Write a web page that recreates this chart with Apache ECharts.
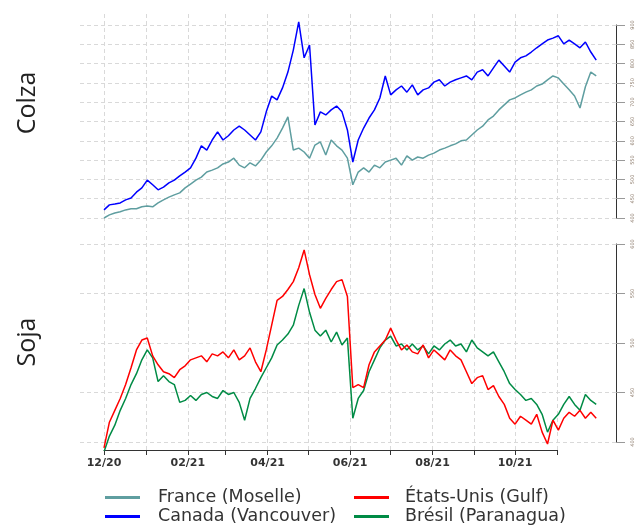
<!DOCTYPE html>
<html>
<head>
<meta charset="utf-8">
<script src="https://cdn.jsdelivr.net/npm/echarts@6/dist/echarts.min.js"></script>
<style>
  html, body { margin: 0; padding: 0; background: #fff; }
  #chart { width: 641px; height: 527px; }
</style>
</head>
<body>
<div id="chart"></div>
<script>
// one reading every 4 days, starting 2020-12-01
const startDate = '2020-12-01';
const stepDays = 4;

const colzaFrance = [400, 408, 413, 416, 421, 424, 424, 429, 431, 429, 439, 447, 454, 460, 465, 478, 488, 498, 506, 519,
  524, 530, 540, 545, 555, 537, 530, 543, 535, 550, 571, 587, 607, 633, 662, 576, 581, 571, 555, 589,
  597, 563, 602, 587, 576, 555, 486, 519, 530, 519, 537, 530, 545, 550, 555, 537, 561, 550, 558, 555,
  563, 568, 576, 581, 587, 592, 600, 602, 615, 628, 638, 654, 664, 680, 693, 706, 711, 719, 726, 732,
  742, 747, 758, 768, 763, 747, 732, 716, 685, 740, 778, 768];
const colzaCanada = [421, 434, 436, 439, 447, 452, 467, 478, 498, 486, 473, 480, 491, 498, 509, 519, 530, 555, 587, 576,
  602, 623, 602, 613, 628, 638, 628, 615, 602, 623, 675, 716, 706, 737, 778, 835, 908, 815, 848, 641,
  675, 667, 680, 690, 675, 628, 545, 602, 633, 659, 680, 711, 768, 719, 732, 742, 726, 745, 719, 732,
  737, 752, 758, 742, 752, 758, 763, 768, 758, 778, 784, 768, 789, 809, 794, 778, 804, 815, 820, 830,
  841, 851, 861, 866, 872, 851, 861, 851, 841, 856, 830, 809];
const sojaUSA = [394, 420, 432, 444, 458, 475, 493, 503, 505, 487, 478, 471, 469, 465, 473, 477, 483, 485, 487, 481,
  489, 487, 491, 485, 493, 483, 487, 495, 481, 471, 493, 518, 543, 547, 554, 562, 576, 594, 569, 549,
  535, 545, 554, 562, 564, 547, 455, 458, 455, 478, 491, 497, 503, 515, 503, 493, 498, 491, 489, 498,
  485, 493, 488, 483, 493, 487, 483, 471, 459, 465, 467, 453, 457, 446, 438, 424, 418, 426, 422, 418,
  428, 410, 398, 422, 412, 424, 430, 426, 432, 424, 430, 424];
const sojaBresil = [390, 406, 417, 432, 444, 458, 469, 483, 493, 485, 461, 467, 461, 458, 440, 442, 447, 442, 448, 450,
  446, 444, 452, 448, 450, 440, 422, 444, 454, 465, 475, 485, 498, 503, 509, 518, 538, 555, 531, 513,
  507, 513, 501, 511, 498, 505, 424, 444, 452, 471, 483, 495, 503, 507, 497, 499, 493, 499, 493, 497,
  489, 497, 493, 499, 503, 497, 499, 491, 503, 495, 491, 487, 491, 481, 471, 459, 453, 448, 442, 444,
  438, 428, 410, 422, 428, 438, 446, 438, 432, 448, 442, 438];

const colzaTicks = [400, 900, 50];
const sojaTicks = [400, 600, 50];

const DAY = 86400000;
const t0 = Date.parse(startDate + 'T00:00:00Z');
const pairs = vals => vals.map((v, i) => [t0 + i * stepDays * DAY, v]);

// layout (px)
const pxPerDay = 453 / 335;
const tickStart = Date.UTC(2020, 11, 1);
const tickEnd = Date.UTC(2021, 10, 1);
const xMin = tickStart - 24 / pxPerDay * DAY;
const xMax = tickStart + (536 - 24) / pxPerDay * DAY;
const topPer = 500 / 193;
const botPer = 200 / 198;

const chart = echarts.init(document.getElementById('chart'));
const dash = { color: '#d9d9d9', type: [4, 3], width: 1 };

const rightAxis = (gridIndex, ticks) => ({
  gridIndex: gridIndex, type: 'value', position: 'right',
  min: ticks[0], max: ticks[1], interval: ticks[2],
  axisLine: { show: true, onZero: false, lineStyle: { color: '#333' } },
  axisTick: { show: true, length: 9, lineStyle: { color: '#999' } },
  axisLabel: { rotate: 90, fontSize: 5, color: '#8a7868', margin: 14, fontFamily: 'DejaVu Sans' },
  splitLine: { show: true, lineStyle: dash }
});

chart.setOption({
  animation: false,
  useUTC: true,
  grid: [
    { left: 80, width: 536, top: 14, height: 218 },
    { left: 80, width: 536, top: 236, height: 214 },
    { left: 104, width: 453, top: 14, height: 218 },
    { left: 104, width: 453, top: 236, height: 214 },
    { left: 80, width: 536, top: 25, height: 193 },
    { left: 80, width: 536, top: 244, height: 198 }
  ],
  xAxis: [
    { gridIndex: 0, type: 'time', min: xMin, max: xMax, show: false },
    { gridIndex: 1, type: 'time', min: xMin, max: xMax, show: false },
    {
      gridIndex: 2, type: 'time', min: tickStart, max: tickEnd,
      minInterval: 28 * DAY, maxInterval: 31 * DAY,
      axisLine: { show: false }, axisTick: { show: false }, axisLabel: { show: false },
      splitLine: { show: true, lineStyle: dash }
    },
    {
      gridIndex: 3, type: 'time', min: tickStart, max: tickEnd,
      minInterval: 28 * DAY, maxInterval: 31 * DAY,
      axisLine: { show: true, onZero: false, lineStyle: { color: '#333', width: 1 } },
      axisTick: { show: true, length: 5, lineStyle: { color: '#333' } },
      axisLabel: {
        show: true, margin: 8, color: '#333', fontFamily: 'DejaVu Sans', fontWeight: 'bold', fontSize: 11,
        hideOverlap: false,
        formatter: function (v) {
          const d = new Date(v);
          const m = d.getUTCMonth();
          if (m % 2 !== 1) return '';
          return String(m + 1).padStart(2, '0') + '/' + String(d.getUTCFullYear() % 100).padStart(2, '0');
        }
      },
      splitLine: { show: true, lineStyle: dash }
    },
    { gridIndex: 4, type: 'value', show: false },
    { gridIndex: 5, type: 'value', show: false }
  ],
  yAxis: [
    { gridIndex: 0, type: 'value', min: colzaTicks[0] - 14 * topPer, max: colzaTicks[1] + 11 * topPer, show: false },
    { gridIndex: 1, type: 'value', min: sojaTicks[0] - 8 * botPer, max: sojaTicks[1] + 8 * botPer, show: false },
    { gridIndex: 2, type: 'value', show: false },
    { gridIndex: 3, type: 'value', show: false },
    rightAxis(4, colzaTicks),
    rightAxis(5, sojaTicks)
  ],
  legend: [
    {
      left: 105, top: 488, orient: 'vertical', padding: 0, itemGap: 0,
      itemWidth: 35, itemHeight: 3, icon: 'rect',
      textStyle: { fontFamily: 'DejaVu Sans', fontSize: 17.5, color: '#333', lineHeight: 19, padding: [0, 0, 0, 13] },
      data: ['France (Moselle)', 'Canada (Vancouver)']
    },
    {
      left: 354, top: 488, orient: 'vertical', padding: 0, itemGap: 0,
      itemWidth: 35, itemHeight: 3, icon: 'rect',
      textStyle: { fontFamily: 'DejaVu Sans', fontSize: 17.5, color: '#333', lineHeight: 19, padding: [0, 0, 0, 11] },
      data: ['États-Unis (Gulf)', 'Brésil (Paranagua)']
    }
  ],
  graphic: [
    { type: 'text', x: 28, y: 103, rotation: Math.PI / 2,
      style: { text: 'Colza', font: '25px "Open Sans"', fill: '#222', align: 'center', verticalAlign: 'middle' } },
    { type: 'text', x: 28, y: 342, rotation: Math.PI / 2,
      style: { text: 'Soja', font: '25px "Open Sans"', fill: '#222', align: 'center', verticalAlign: 'middle' } }
  ],
  series: [
    { name: 'France (Moselle)', type: 'line', xAxisIndex: 0, yAxisIndex: 0, data: pairs(colzaFrance),
      showSymbol: false, color: '#5f9ea0', lineStyle: { width: 1.5 } },
    { name: 'Canada (Vancouver)', type: 'line', xAxisIndex: 0, yAxisIndex: 0, data: pairs(colzaCanada),
      showSymbol: false, color: '#0000ff', lineStyle: { width: 1.5 } },
    { name: 'Brésil (Paranagua)', type: 'line', xAxisIndex: 1, yAxisIndex: 1, data: pairs(sojaBresil),
      showSymbol: false, color: '#008b45', lineStyle: { width: 1.5 } },
    { name: 'États-Unis (Gulf)', type: 'line', xAxisIndex: 1, yAxisIndex: 1, data: pairs(sojaUSA),
      showSymbol: false, color: '#ff0000', lineStyle: { width: 1.5 } }
  ]
});
</script>
</body>
</html>
